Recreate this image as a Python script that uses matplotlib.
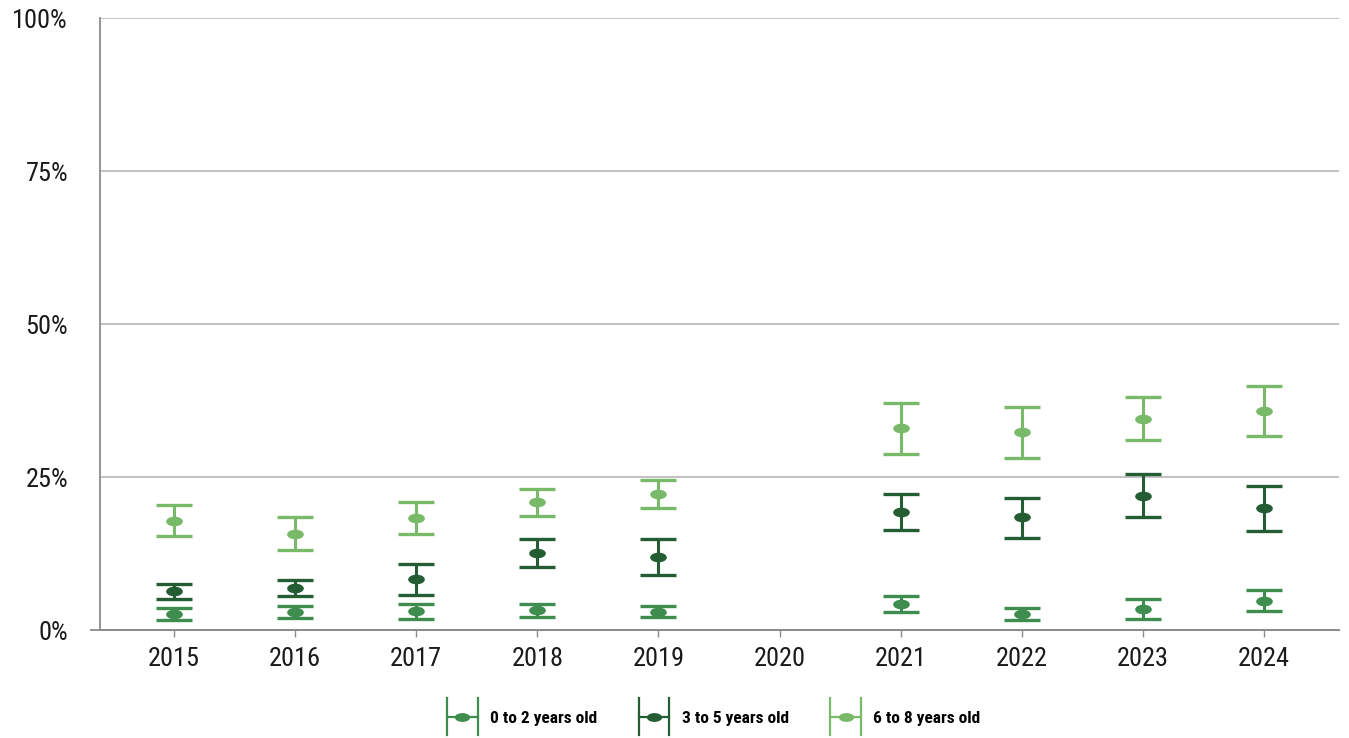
import numpy as np
import matplotlib
matplotlib.use("Agg")
import matplotlib.pyplot as plt
from matplotlib.path import Path
from matplotlib.lines import Line2D
from matplotlib.legend_handler import HandlerBase

plt.rcParams["font.family"] = ["Roboto Condensed", "Roboto", "DejaVu Sans"]

years = ["2015", "2016", "2017", "2018", "2019", "2020", "2021", "2022", "2023", "2024"]
series_names = ["0 to 2 years old", "3 to 5 years old", "6 to 8 years old"]
colors = ["#3e8c4e", "#245c34", "#79ba6a"]

# estimates and 95% interval bounds (percent); 2020 has no data
est_0_2 = [2.6, 2.9, 3.05, 3.3, 2.9, np.nan, 4.2, 2.6, 3.4, 4.7]
lo_0_2 = [1.6, 1.9, 1.85, 2.2, 2.1, np.nan, 2.9, 1.7, 1.85, 3.05]
hi_0_2 = [3.6, 3.9, 4.3, 4.25, 3.9, np.nan, 5.6, 3.6, 5.0, 6.5]

est_3_5 = [6.3, 6.9, 8.3, 12.6, 11.9, np.nan, 19.3, 18.4, 21.9, 19.9]
lo_3_5 = [5.0, 5.6, 5.8, 10.3, 9.0, np.nan, 16.3, 15.1, 18.4, 16.2]
hi_3_5 = [7.6, 8.2, 10.8, 14.9, 14.8, np.nan, 22.3, 21.6, 25.5, 23.5]

est_6_8 = [17.8, 15.7, 18.3, 20.9, 22.2, np.nan, 33.0, 32.3, 34.5, 35.8]
lo_6_8 = [15.4, 13.0, 15.7, 18.7, 20.0, np.nan, 28.8, 28.1, 31.0, 31.75]
hi_6_8 = [20.4, 18.4, 20.9, 23.0, 24.5, np.nan, 37.1, 36.4, 38.1, 39.9]

y_ticks = [0, 25, 50, 75, 100]
y_tick_labels = ["0%", "25%", "50%", "75%", "100%"]

# flattened ellipse marker
circle = Path.unit_circle()
ellipse = Path(circle.vertices * np.array([1.0, 0.58]), circle.codes)


class ErrHandle(HandlerBase):
    # horizontal bar with end caps and the dot in the middle
    def create_artists(self, legend, orig_handle, xdescent, ydescent,
                       width, height, fontsize, trans):
        c = orig_handle.get_color()
        y = height / 2 - ydescent
        x0, x1 = -xdescent, -xdescent + width
        h = 13.5
        arts = [
            Line2D([x0, x1], [y, y], color=c, lw=1.6),
            Line2D([x0, x0], [y - h, y + h], color=c, lw=1.6),
            Line2D([x1, x1], [y - h, y + h], color=c, lw=1.6),
            Line2D([(x0 + x1) / 2], [y], ls="none", marker=ellipse, ms=11,
                   color=c, markeredgewidth=0),
        ]
        for a in arts:
            a.set_transform(trans)
        return arts


fig = plt.figure(figsize=(13.49, 7.38), dpi=100)
ax = fig.add_axes([0.0741, 0.1463, 0.9185, 0.8293])

x = np.arange(len(years))
groups = [(est_0_2, lo_0_2, hi_0_2), (est_3_5, lo_3_5, hi_3_5), (est_6_8, lo_6_8, hi_6_8)]
proxies = []
for (est, lo, hi), name, c in zip(groups, series_names, colors):
    est = np.array(est)
    err = [est - np.array(lo), np.array(hi) - est]
    ax.errorbar(x, est, yerr=err, fmt="none", ecolor=c, elinewidth=2.2,
                capsize=13, capthick=2.4, zorder=3)
    ax.plot(x, est, linestyle="none", marker=ellipse, markersize=12,
            color=c, markeredgewidth=0, zorder=4)
    proxies.append(Line2D([], [], color=c, label=name))

ax.set_xlim(-0.611, 9.619)
ax.set_ylim(0, 100)
ax.set_xticks(x)
ax.set_xticklabels(years)
ax.set_yticks(y_ticks)
ax.set_yticklabels(y_tick_labels)

ax.grid(True, axis="y", color="#b0b0b0", linewidth=1.1, zorder=0)
ax.set_axisbelow(True)
for s in ["top", "right"]:
    ax.spines[s].set_visible(False)
for s in ["left", "bottom"]:
    ax.spines[s].set_color("#8c8c8c")
    ax.spines[s].set_linewidth(1.3)
ax.axhline(0, xmin=-0.007, xmax=1, color="#8c8c8c", linewidth=1.3, clip_on=False, zorder=2)

ax.tick_params(axis="y", length=0, pad=23, labelsize=19, labelcolor="#1a1a1a")
ax.tick_params(axis="x", length=5, width=1, color="#8c8c8c", pad=7, labelsize=19,
               labelcolor="#1a1a1a")

fig.legend(handles=proxies, labels=series_names, loc="center",
           bbox_to_anchor=(0.529, 0.027), ncol=3, frameon=False,
           handler_map={Line2D: ErrHandle()},
           prop={"size": 12.5, "weight": "bold"}, handlelength=1.78,
           handletextpad=0.7, columnspacing=2.4)

fig.savefig("out.png", dpi=100)
plt.close(fig)
